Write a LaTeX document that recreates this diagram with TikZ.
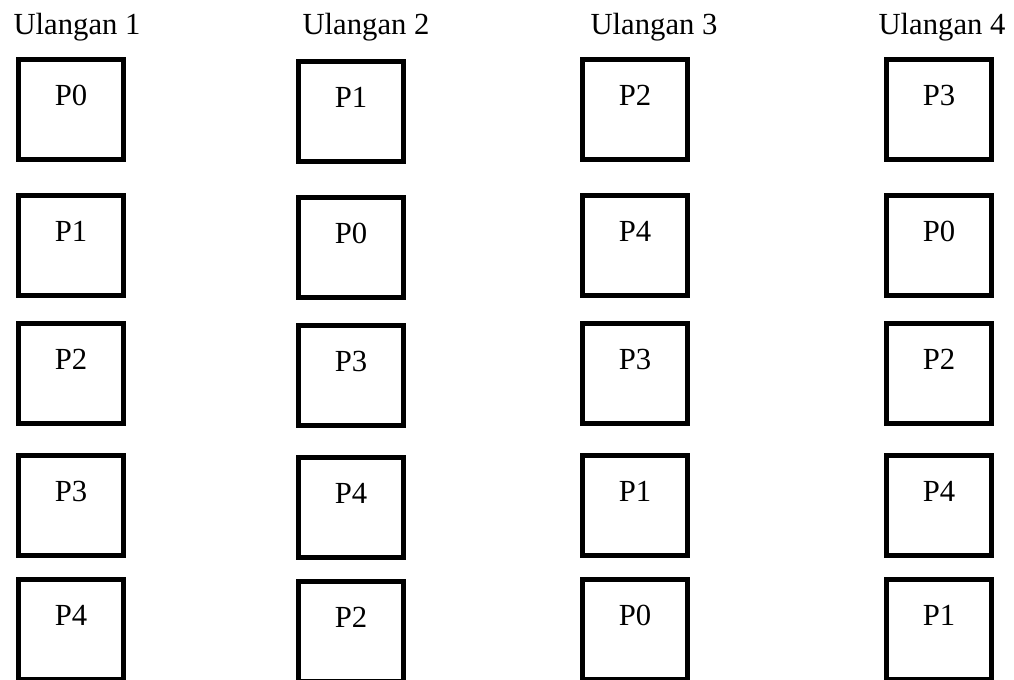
\documentclass[tikz,border=0pt]{standalone}
\usepackage{fontspec}
\setmainfont{Liberation Serif}
\usetikzlibrary{positioning}

\begin{document}
\begin{tikzpicture}[x=0.75pt,y=-0.75pt,% en pixeles
  caja/.style={draw,line width=4pt,minimum width=78.5pt,minimum height=74.75pt,inner sep=0pt},
  etiq/.style={font=\fontsize{23}{27}\selectfont}]
\useasboundingbox (0,0) rectangle (1014,680);
\foreach \c/\x/\tx/\dy/\lista in {1/71/77/0/{0,1,2,3,4},2/351/366/2/{1,0,3,4,2},
  3/635/654/0/{2,4,3,1,0},4/939/942/0/{3,0,2,4,1}}{
  \node[etiq,anchor=base] (u\c) at (\tx,35) {Ulangan \c};
  \foreach \p [count=\f] in \lista {
    \pgfmathsetmacro\yc{{57,193,321,453,577}[\f-1]+\dy+52.5}
    \node[caja,label={[etiq,anchor=base,yshift=-36.25pt]north:P\p}] (b\c-\f) at (\x,\yc) {};
  }
}
\end{tikzpicture}
\end{document}
